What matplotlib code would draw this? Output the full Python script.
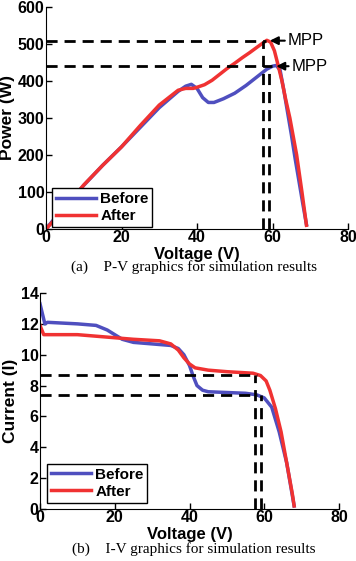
import matplotlib
matplotlib.use("Agg")
import matplotlib.pyplot as plt

# P-V data
pv_before_v = [0, 2, 5, 10, 15, 20, 25, 30, 35, 37, 38.5, 40, 41.5, 43, 44.5, 47, 50, 53, 56, 58.5, 60, 61, 62, 63, 64, 65, 66, 67, 68, 69]
pv_before_p = [0, 25, 60, 118, 172, 222, 275, 328, 372, 386, 391, 380, 355, 342, 342, 352, 367, 388, 412, 432, 440, 442, 430, 375, 315, 255, 190, 130, 70, 12]
pv_after_v = [0, 2, 5, 10, 15, 20, 25, 30, 35, 37, 39, 40, 42, 44, 46, 48, 50, 52, 54, 56, 57.5, 58.5, 59.5, 60.5, 61.5, 62.5, 63.5, 64.6, 65.5, 66.4, 67.8, 69]
pv_after_p = [0, 22, 58, 119, 172, 222, 280, 335, 375, 380, 380, 383, 390, 402, 418, 434, 448, 463, 477, 492, 503, 510, 505, 482, 442, 400, 350, 300, 250, 200, 100, 10]

# I-V data
iv_before_v = [0, 0.5, 1.3, 2, 10, 15, 18, 20, 22, 25, 30, 35, 37, 38.5, 40, 41, 42, 43.5, 45, 50, 55, 58, 60, 62, 64, 66, 68]
iv_before_i = [13.3, 12.8, 12.0, 12.1, 12.0, 11.9, 11.6, 11.3, 11.0, 10.8, 10.7, 10.6, 10.4, 10.0, 9.3, 8.6, 8.0, 7.7, 7.6, 7.55, 7.5, 7.4, 7.2, 6.6, 5.0, 3.0, 0.2]
iv_after_v = [0, 1, 10, 15, 20, 25, 32, 35, 37, 38.5, 40, 41.5, 45, 50, 57, 59, 60.5, 61.5, 63, 64.5, 66, 67.5, 68]
iv_after_i = [11.9, 11.3, 11.3, 11.2, 11.1, 11.0, 10.9, 10.7, 10.3, 9.8, 9.4, 9.15, 9.0, 8.9, 8.8, 8.65, 8.3, 7.7, 6.5, 5.0, 3.0, 1.0, 0.2]

# MPP marker lines
pv_mpp_p = [509, 440]
pv_mpp_v = [57.5, 59.1]
pv_arrow_tip = [59.3, 61.0]
pv_text_x = [64.0, 65.0]
iv_mpp_i = [8.7, 7.4]
iv_mpp_v = [57.5, 59.1]

blue = "#4f4fbf"
red = "#f03232"

plt.rcParams["font.family"] = ["Liberation Sans", "DejaVu Sans"]

fig = plt.figure(figsize=(3.56, 5.61), dpi=100)


def style(ax, xlabel, ylabel, ylab_x):
    ax.spines["top"].set_visible(False)
    ax.spines["right"].set_visible(False)
    ax.tick_params(direction="in", length=4, width=1, labelsize=11.5, pad=1)
    for t in ax.get_xticklabels() + ax.get_yticklabels():
        t.set_fontweight("bold")
    ax.set_xlabel(xlabel, fontsize=12, fontweight="bold", labelpad=1)
    ax.set_ylabel(ylabel, fontsize=12.5, fontweight="bold")
    ax.yaxis.set_label_coords(ylab_x, 0.5)


def legend(ax, anchor):
    leg = ax.legend(loc="lower left", bbox_to_anchor=anchor, prop={"weight": "bold", "size": 11},
                    handlelength=2.6, fancybox=False, edgecolor="k", framealpha=1,
                    borderpad=0.25, labelspacing=0.2, handletextpad=0.3, borderaxespad=0)
    leg.get_frame().set_linewidth(1)


# (a) P-V
ax1 = fig.add_axes([46 / 356, 1 - 229 / 561, 302 / 356, 222 / 561])
ax1.plot(pv_before_v, pv_before_p, color=blue, lw=2.5, label="Before")
ax1.plot(pv_after_v, pv_after_p, color=red, lw=2.5, label="After")
for p, v in zip(pv_mpp_p, pv_mpp_v):
    ax1.plot([0, v + 0.8], [p, p], "k--", lw=2, dashes=(4, 2.5))
    ax1.plot([v, v], [0, p], "k--", lw=2, dashes=(4, 2.5))
for p, tip, tx in zip(pv_mpp_p, pv_arrow_tip, pv_text_x):
    ax1.annotate("MPP", xy=(tip, p), xytext=(tx, p), fontsize=12, va="center",
                 arrowprops=dict(arrowstyle="-|>", color="k", lw=1.5, mutation_scale=12,
                                 shrinkA=0, shrinkB=0))
ax1.set_xlim(0, 80)
ax1.set_ylim(0, 600)
ax1.set_xticks([0, 20, 40, 60, 80])
ax1.set_yticks([0, 100, 200, 300, 400, 500, 600])
style(ax1, "Voltage (V)", "Power (W)", -0.103)
legend(ax1, (0.02, 0.01))

# (b) I-V
ax2 = fig.add_axes([40 / 356, 1 - 509 / 561, 299 / 356, 216 / 561])
ax2.plot(iv_before_v, iv_before_i, color=blue, lw=2.5, label="Before")
ax2.plot(iv_after_v, iv_after_i, color=red, lw=2.5, label="After")
for i, v in zip(iv_mpp_i, iv_mpp_v):
    ax2.plot([0, 58], [i, i], "k--", lw=2, dashes=(4, 2.5))
    ax2.plot([v, v], [0, i], "k--", lw=2, dashes=(4, 2.5))
ax2.set_xlim(0, 80)
ax2.set_ylim(0, 14)
ax2.set_xticks([0, 20, 40, 60, 80])
ax2.set_yticks([0, 2, 4, 6, 8, 10, 12, 14])
style(ax2, "Voltage (V)", "Current (I)", -0.074)
legend(ax2, (0.024, 0.03))

fig.text(194 / 356, 1 - 267 / 561, "(a)    P-V graphics for simulation results",
         ha="center", va="center", fontsize=11, family="Liberation Serif")
fig.text(194 / 356, 1 - 549 / 561, "(b)    I-V graphics for simulation results",
         ha="center", va="center", fontsize=11, family="Liberation Serif")

fig.savefig("out.png", dpi=100)
